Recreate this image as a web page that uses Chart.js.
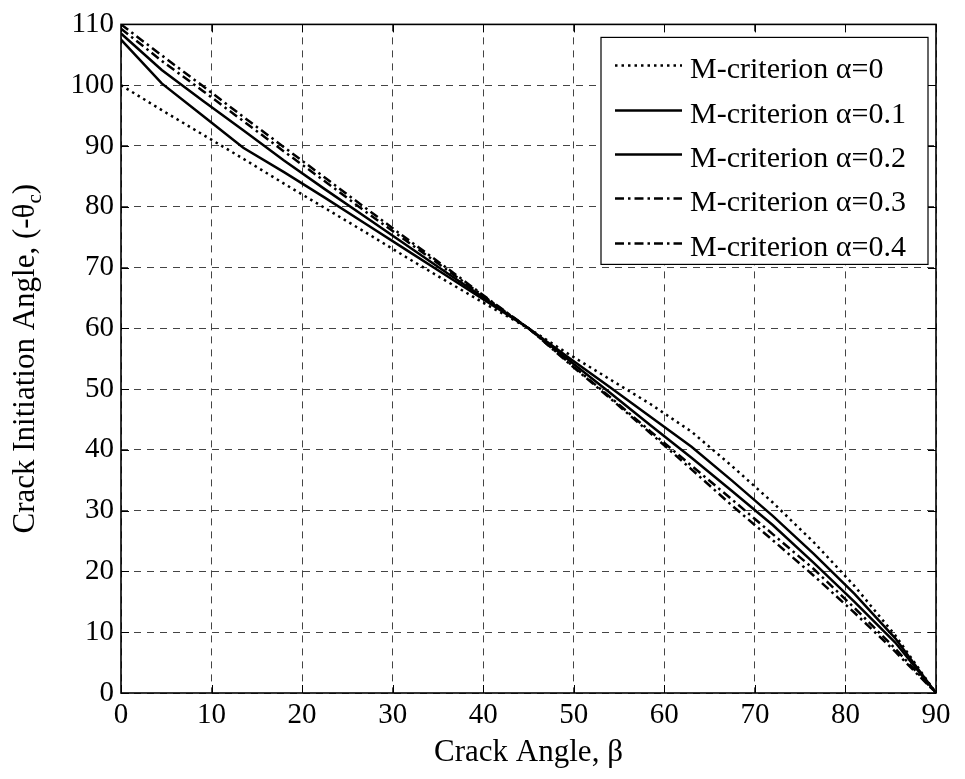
<!DOCTYPE html>
<html>
<head>
<meta charset="utf-8">
<script src="https://cdn.jsdelivr.net/npm/chart.js@4/dist/chart.umd.min.js"></script>
<style>
  html, body { margin: 0; padding: 0; background: #fff; }
</style>
</head>
<body>
<canvas id="chart" width="965" height="779"></canvas>
<script>
// crack angle beta (deg)
const beta = [0, 4.5, 9, 13.5, 18, 22.5, 27, 31.5, 36, 40.5, 45, 49.5, 54, 58.5, 63, 67.5, 72, 76.5, 81, 85.5, 90];

// crack initiation angle (-theta_c)
const alpha0  = [100, 95.9, 91.9, 87.9, 83.8, 79.8, 75.8, 71.7, 67.7, 63.8, 60, 55.7, 51.6, 47.5, 43.0, 37.3, 31.3, 24.8, 17.6, 9.5, 0];
const alpha01 = [107.5, 100.3, 95.0, 89.7, 85.7, 81.5, 77.2, 72.9, 68.6, 64.3, 60, 55.1, 50.3, 45.4, 40.5, 34.9, 29.1, 22.9, 16.3, 9.0, 0];
const alpha02 = [108.5, 102.5, 97.5, 92.6, 87.6, 82.9, 78.3, 73.7, 69.1, 64.6, 60, 54.7, 49.4, 44.0, 38.7, 33.2, 27.6, 21.4, 15.0, 8.3, 0];
const alpha03 = [109.3, 104.0, 99.1, 94.1, 89.1, 84.2, 79.2, 74.4, 69.6, 64.8, 60, 54.3, 48.7, 43.0, 37.4, 31.8, 26.1, 20.4, 14.0, 7.3, 0];
const alpha04 = [110, 104.9, 99.9, 94.8, 89.8, 84.8, 79.8, 74.8, 69.9, 64.9, 60, 54.2, 48.5, 42.7, 36.8, 30.8, 25.1, 19.3, 13.2, 6.8, 0];

const seriesNames = ["M-criterion α=0", "M-criterion α=0.1", "M-criterion α=0.2", "M-criterion α=0.3", "M-criterion α=0.4"];
const xTitle = "Crack Angle, β";
const yTitle = ["Crack Initiation Angle, (-θ", "c", ")"];

const FONT = "'Liberation Serif', 'Times New Roman', serif";
const DOT = [2.5, 4];
const DASHDOT = [9, 4, 2.5, 4];

function makeSet(label, values, dash) {
    return {
        label: label,
        data: values.map((v, i) => ({ x: beta[i], y: v })),
        borderColor: "#000",
        borderWidth: 2.5,
        borderDash: dash,
        borderCapStyle: "butt",
        pointRadius: 0,
        fill: false,
        tension: 0
    };
}

// frame, inner ticks, boxed legend and y title with subscript
const decorPlugin = {
    id: "decor",
    afterDraw(chart) {
        const ctx = chart.ctx;
        const a = chart.chartArea;
        const xs = chart.scales.x, ys = chart.scales.y;
        ctx.save();
        ctx.strokeStyle = "#000";
        ctx.setLineDash([]);

        // inner ticks
        ctx.lineWidth = 1;
        const tl = 8;
        ctx.beginPath();
        xs.ticks.forEach(t => {
            const px = Math.round(xs.getPixelForValue(t.value)) + 0.5;
            ctx.moveTo(px, a.bottom); ctx.lineTo(px, a.bottom - tl);
            ctx.moveTo(px, a.top); ctx.lineTo(px, a.top + tl);
        });
        ys.ticks.forEach(t => {
            const py = Math.round(ys.getPixelForValue(t.value)) + 0.5;
            ctx.moveTo(a.left, py); ctx.lineTo(a.left + tl, py);
            ctx.moveTo(a.right, py); ctx.lineTo(a.right - tl, py);
        });
        ctx.stroke();

        // frame
        ctx.lineWidth = 1.6;
        ctx.strokeRect(a.left, a.top, a.right - a.left, a.bottom - a.top);

        // legend box
        const bx = a.right - 335, by = a.top + 13, bw = 327, bh = 227;
        ctx.fillStyle = "#fff";
        ctx.fillRect(bx, by, bw, bh);
        ctx.lineWidth = 1.2;
        ctx.strokeRect(bx, by, bw, bh);
        ctx.font = "30px " + FONT;
        ctx.fillStyle = "#000";
        ctx.textBaseline = "alphabetic";
        ctx.textAlign = "left";
        chart.data.datasets.forEach((ds, i) => {
            const base = by + 41 + i * 44.3;
            const ly = Math.round(base - 13) + 0.5;
            ctx.lineWidth = 2.5;
            ctx.lineCap = "butt";
            ctx.setLineDash(ds.borderDash || []);
            ctx.beginPath();
            ctx.moveTo(bx + 14, ly);
            ctx.lineTo(bx + 81, ly);
            ctx.stroke();
            ctx.setLineDash([]);
            ctx.fillText(ds.label, bx + 89, base);
        });

        // y title
        const big = "31px " + FONT, small = "21px " + FONT;
        ctx.font = big;
        const w1 = ctx.measureText(yTitle[0]).width;
        const w3 = ctx.measureText(yTitle[2]).width;
        ctx.font = small;
        const w2 = ctx.measureText(yTitle[1]).width;
        const total = w1 + w2 + w3;
        ctx.translate(34, (a.top + a.bottom) / 2);
        ctx.rotate(-Math.PI / 2);
        let x0 = -total / 2;
        ctx.font = big;
        ctx.fillText(yTitle[0], x0, 0);
        ctx.font = small;
        ctx.fillText(yTitle[1], x0 + w1, 7);
        ctx.font = big;
        ctx.fillText(yTitle[2], x0 + w1 + w2, 0);
        ctx.restore();
    }
};

new Chart(document.getElementById("chart").getContext("2d"), {
    type: "line",
    data: {
        datasets: [
            makeSet(seriesNames[0], alpha0, DOT),
            makeSet(seriesNames[1], alpha01, []),
            makeSet(seriesNames[2], alpha02, []),
            makeSet(seriesNames[3], alpha03, DASHDOT),
            makeSet(seriesNames[4], alpha04, DASHDOT)
        ]
    },
    options: {
        responsive: false,
        animation: false,
        devicePixelRatio: 1,
        layout: { padding: { top: 20, right: 29, left: 0, bottom: 0 } },
        plugins: {
            legend: { display: false },
            tooltip: { enabled: false }
        },
        scales: {
            x: {
                type: "linear",
                min: 0, max: 90,
                ticks: { stepSize: 10, color: "#000", font: { family: FONT, size: 29 }, padding: 5, maxRotation: 0, autoSkip: false },
                grid: { color: "#444", lineWidth: 1, drawTicks: false },
                border: { display: false, dash: [7, 6] },
                title: { display: true, text: xTitle, color: "#000", font: { family: FONT, size: 31 }, padding: { top: 0, bottom: 8 } },
                afterFit(scale) { scale.height = 86; }
            },
            y: {
                min: 0, max: 110,
                ticks: { stepSize: 10, color: "#000", font: { family: FONT, size: 29 }, padding: 7 },
                grid: { color: "#444", lineWidth: 1, drawTicks: false },
                border: { display: false, dash: [7, 6] },
                afterFit(scale) { scale.width = 121; }
            }
        }
    },
    plugins: [decorPlugin]
});
</script>
</body>
</html>
